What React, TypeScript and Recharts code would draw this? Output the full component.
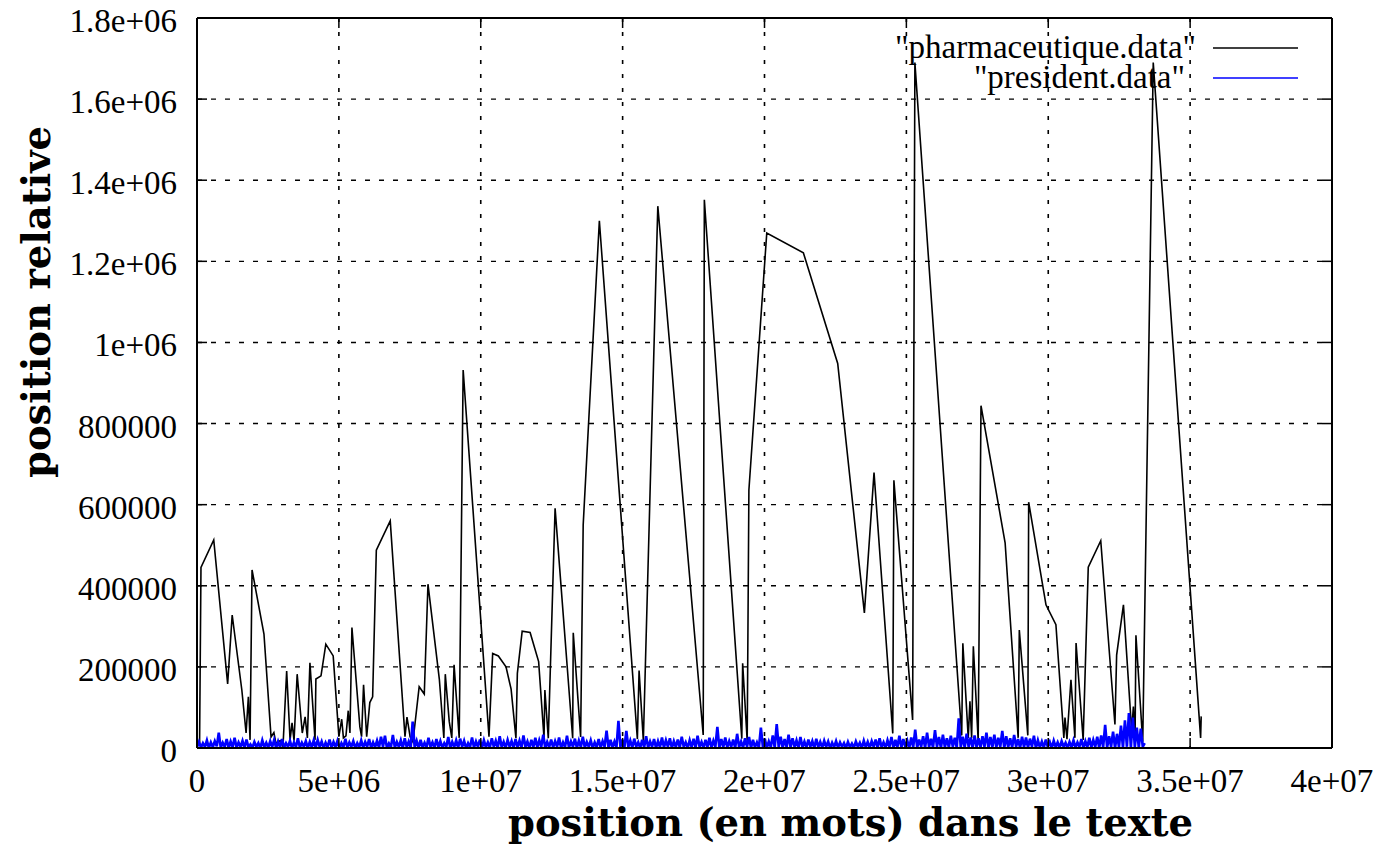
import React from 'react';
import { LineChart, Line, XAxis, YAxis, CartesianGrid, Legend, ReferenceLine, Label } from 'recharts';

const CHART_W = 1383;
const CHART_H = 866;
const MARGIN = { top: 18, right: 51, bottom: 0, left: 0 };
const Y_AXIS_W = 197;
const X_AXIS_H = 118;
const PLOT_W = CHART_W - MARGIN.left - MARGIN.right - Y_AXIS_W;
const PLOT_H = CHART_H - MARGIN.top - MARGIN.bottom - X_AXIS_H;

const SERIF = "'Liberation Serif', 'Times New Roman', serif";
const BOLD_SERIF = "'DejaVu Serif', serif";

const X_TICKS = [0, 5e6, 1e7, 1.5e7, 2e7, 2.5e7, 3e7, 3.5e7, 4e7];
const X_TICK_LABELS = ['0', '5e+06', '1e+07', '1.5e+07', '2e+07', '2.5e+07', '3e+07', '3.5e+07', '4e+07'];
const Y_TICKS = [0, 2e5, 4e5, 6e5, 8e5, 1e6, 1.2e6, 1.4e6, 1.6e6, 1.8e6];
const Y_TICK_LABELS = ['0', '200000', '400000', '600000', '800000', '1e+06', '1.2e+06', '1.4e+06', '1.6e+06', '1.8e+06'];

const X_TITLE = 'position (en mots) dans le texte';
const Y_TITLE = 'position relative';
const SERIES_NAMES = ['"pharmaceutique.data"', '"president.data"'];

// pharmaceutique.data : positions (millions of words) and relative positions (thousands)
const PHARMA_X_M = [0.09, 0.14, 0.59, 1.08, 1.24, 1.58, 1.73, 1.81, 1.87, 1.94, 2.36, 2.61, 2.71, 2.78, 2.93, 3.03, 3.16, 3.28, 3.35, 3.42, 3.53, 3.71, 3.81, 3.89, 3.98, 4.16, 4.19, 4.37, 4.54, 4.80, 5.00, 5.10, 5.16, 5.25, 5.33, 5.39, 5.46, 5.74, 5.80, 5.87, 5.98, 6.09, 6.19, 6.32, 6.81, 7.33, 7.40, 7.51, 7.61, 7.83, 8.01, 8.14, 8.54, 8.70, 8.75, 8.89, 8.98, 9.06, 9.24, 9.38, 10.29, 10.42, 10.62, 10.89, 11.07, 11.24, 11.29, 11.46, 11.74, 12.04, 12.23, 12.26, 12.38, 12.62, 13.24, 13.26, 13.52, 13.61, 14.18, 15.52, 15.58, 15.73, 16.24, 17.84, 17.88, 19.20, 19.23, 19.39, 19.45, 20.08, 21.37, 22.58, 23.52, 23.86, 24.52, 24.56, 25.22, 25.30, 26.95, 26.99, 27.18, 27.24, 27.30, 27.36, 27.53, 27.63, 28.48, 28.94, 28.98, 29.28, 29.31, 29.92, 30.27, 30.55, 30.59, 30.66, 30.80, 30.94, 30.98, 31.23, 31.41, 31.85, 32.35, 32.41, 32.65, 32.94, 33.00, 33.06, 33.09, 33.33, 33.70, 35.37, 35.39];
const PHARMA_Y_K = [5, 445, 513, 158, 328, 143, 37, 126, 20, 439, 281, 27, 38, 12, 18, 3, 190, 20, 62, 18, 182, 37, 77, 25, 210, 20, 170, 178, 256, 227, 28, 71, 25, 30, 92, 37, 297, 52, 28, 156, 28, 112, 126, 488, 560, 28, 76, 28, 15, 151, 133, 404, 170, 25, 182, 65, 25, 205, 25, 932, 28, 233, 227, 200, 145, 24, 184, 288, 285, 213, 24, 143, 24, 591, 24, 284, 27, 550, 1300, 22, 191, 18, 1336, 32, 1352, 23, 209, 18, 636, 1270, 1221, 948, 333, 679, 36, 660, 69, 1690, 31, 258, 25, 115, 25, 251, 20, 844, 506, 25, 291, 31, 606, 353, 304, 25, 75, 22, 168, 25, 259, 20, 446, 511, 58, 229, 353, 42, 102, 25, 278, 15, 1690, 25, 78];

// president.data : evenly spaced samples up to the last position (millions), values in thousands
const PRESIDENT_END_M = 33.4;
const PRESIDENT_Y_K = [
  2, 15, 1, 12, 3, 19, 0, 14, 2, 17, 4, 38, 1, 13, 3, 22, 0, 16, 2, 25,
  1, 14, 3, 18, 0, 21, 2, 9, 1, 15, 3, 12, 0, 19, 2, 13, 1, 17, 3, 20,
  0, 16, 2, 22, 1, 12, 3, 18, 0, 14, 2, 24, 1, 13, 3, 17, 0, 15, 2, 19,
  1, 20, 3, 16, 0, 13, 2, 21, 1, 15, 3, 18, 0, 12, 2, 23, 1, 14, 3, 17,
  0, 12, 2, 19, 1, 15, 3, 22, 0, 14, 2, 18, 1, 28, 3, 30, 0, 11, 2, 32,
  1, 15, 3, 19, 0, 24, 2, 16, 1, 65, 3, 18, 0, 20, 2, 13, 1, 25, 3, 14,
  0, 22, 2, 17, 1, 12, 3, 27, 0, 15, 2, 19, 1, 23, 3, 18, 0, 12, 2, 26,
  1, 16, 3, 21, 0, 19, 2, 14, 1, 24, 3, 18, 0, 29, 2, 15, 1, 20, 3, 17,
  0, 22, 2, 18, 1, 31, 3, 16, 0, 20, 2, 25, 1, 19, 3, 33, 0, 15, 2, 21,
  1, 17, 3, 26, 0, 14, 2, 30, 1, 16, 3, 23, 0, 18, 2, 28, 1, 15, 3, 19,
  0, 14, 2, 22, 1, 17, 3, 43, 0, 20, 2, 16, 1, 67, 3, 21, 0, 42, 2, 18,
  1, 23, 3, 14, 0, 20, 2, 29, 1, 16, 3, 22, 0, 17, 2, 26, 1, 19, 3, 24,
  0, 17, 2, 21, 1, 28, 3, 14, 0, 19, 2, 23, 1, 30, 3, 15, 0, 20, 2, 25,
  1, 18, 3, 52, 0, 22, 2, 26, 1, 17, 3, 21, 0, 35, 2, 16, 1, 24, 3, 27,
  0, 20, 2, 14, 1, 50, 3, 23, 0, 16, 2, 31, 1, 59, 3, 28, 0, 22, 2, 33,
  1, 24, 3, 19, 0, 27, 2, 16, 1, 21, 3, 17, 0, 23, 2, 15, 1, 18, 3, 16,
  0, 13, 2, 17, 1, 14, 3, 12, 0, 15, 2, 11, 1, 16, 3, 13, 0, 18, 2, 15,
  1, 17, 3, 21, 0, 24, 2, 14, 1, 19, 3, 27, 0, 20, 2, 30, 1, 22, 3, 18,
  0, 26, 2, 45, 1, 21, 3, 29, 0, 38, 2, 23, 1, 44, 3, 27, 0, 33, 2, 24,
  1, 30, 3, 25, 0, 73, 2, 28, 1, 35, 3, 26, 0, 31, 2, 24, 1, 29, 3, 38,
  0, 27, 2, 33, 1, 25, 3, 42, 0, 29, 2, 24, 1, 32, 3, 22, 0, 28, 2, 26,
  1, 23, 3, 30, 0, 19, 2, 16, 1, 21, 3, 15, 0, 18, 2, 14, 1, 17, 3, 13,
  0, 15, 2, 19, 1, 14, 3, 22, 0, 17, 2, 25, 1, 20, 3, 28, 0, 31, 2, 57,
  1, 29, 3, 40, 0, 35, 2, 55, 1, 68, 3, 86, 0, 75, 2, 50, 1, 48, 3, 12,
];

const pharmaData = PHARMA_X_M.map((x, i) => ({ x: x * 1e6, y: PHARMA_Y_K[i] * 1000 }));
const presidentStep = (PRESIDENT_END_M * 1e6) / (PRESIDENT_Y_K.length - 1);
const presidentData = PRESIDENT_Y_K.map((v, i) => ({ x: i * presidentStep, y: v * 1000 }));

const TICK_LEN = 10;

const XTick = (props: any) => {
  const { x, y, payload } = props;
  const idx = X_TICKS.indexOf(payload.value);
  return (
    <g>
      <line x1={x} y1={y} x2={x} y2={y - TICK_LEN} stroke="#000" strokeWidth={1.5} />
      <line x1={x} y1={y - PLOT_H} x2={x} y2={y - PLOT_H + TICK_LEN} stroke="#000" strokeWidth={1.5} />
      <text x={x} y={y + 33} textAnchor="middle" dominantBaseline="central" fontFamily={SERIF} fontSize={33} fill="#000">
        {X_TICK_LABELS[idx]}
      </text>
    </g>
  );
};

const YTick = (props: any) => {
  const { x, y, payload } = props;
  const idx = Y_TICKS.indexOf(payload.value);
  return (
    <g>
      <line x1={x} y1={y} x2={x + TICK_LEN} y2={y} stroke="#000" strokeWidth={1.5} />
      <line x1={x + PLOT_W - TICK_LEN} y1={y} x2={x + PLOT_W} y2={y} stroke="#000" strokeWidth={1.5} />
      <text x={x - 20} y={y + 3} textAnchor="end" dominantBaseline="central" fontFamily={SERIF} fontSize={33} fill="#000">
        {Y_TICK_LABELS[idx]}
      </text>
    </g>
  );
};

const renderLegend = (props: any) => {
  const payload = props.payload || [];
  return (
    <svg width={CHART_W} height={100} style={{ position: 'absolute', left: 0, top: 0, overflow: 'visible' }}>
      {payload.map((entry: any, i: number) => (
        <g key={i}>
          <text
            x={i === 0 ? 1196 : 1185}
            y={58 + i * 30}
            textAnchor="end"
            fontFamily={SERIF}
            fontSize={33}
            fill="#000"
          >
            {entry.value}
          </text>
          <line x1={1213} y1={48 + i * 30} x2={1298} y2={48 + i * 30} stroke={entry.color} strokeWidth={1.6} />
        </g>
      ))}
    </svg>
  );
};

const XTitle = (props: any) => {
  const vb = props.viewBox || { x: 197, y: 748, width: PLOT_W, height: X_AXIS_H };
  return (
    <text
      x={vb.x + vb.width / 2 + 86}
      y={vb.y + 74}
      textAnchor="middle"
      dominantBaseline="central"
      fontFamily={BOLD_SERIF}
      fontWeight="bold"
      fontSize={38.5}
      fill="#000"
    >
      {X_TITLE}
    </text>
  );
};

const YTitle = (props: any) => {
  const vb = props.viewBox || { x: 0, y: 18, width: Y_AXIS_W, height: PLOT_H };
  const cx = 36;
  const cy = vb.y + vb.height / 2 - 81;
  return (
    <text
      x={cx}
      y={cy}
      transform={`rotate(-90, ${cx}, ${cy})`}
      textAnchor="middle"
      dominantBaseline="central"
      fontFamily={BOLD_SERIF}
      fontWeight="bold"
      fontSize={38.5}
      fill="#000"
    >
      {Y_TITLE}
    </text>
  );
};

export default function App() {
  return (
    <div style={{ position: 'absolute', left: 0, top: 0, width: CHART_W, height: CHART_H, background: '#fff' }}>
      <LineChart width={CHART_W} height={CHART_H} margin={MARGIN}>
        <CartesianGrid horizontal={true} vertical={false} stroke="#000" strokeWidth={1.4} strokeDasharray="5 9" />
        <CartesianGrid horizontal={false} vertical={true} stroke="#000" strokeWidth={1.6} strokeDasharray="4 10" />
        <XAxis
          type="number"
          dataKey="x"
          domain={[0, 4e7]}
          ticks={X_TICKS}
          interval={0}
          height={X_AXIS_H}
          tickSize={0}
          tickMargin={0}
          tickLine={false}
          axisLine={{ stroke: '#000', strokeWidth: 2 }}
          tick={<XTick />}
          allowDataOverflow={true}
        >
          <Label content={<XTitle />} />
        </XAxis>
        <YAxis
          type="number"
          domain={[0, 1.8e6]}
          ticks={Y_TICKS}
          interval={0}
          width={Y_AXIS_W}
          tickSize={0}
          tickMargin={0}
          tickLine={false}
          axisLine={{ stroke: '#000', strokeWidth: 2 }}
          tick={<YTick />}
          allowDataOverflow={true}
        >
          <Label content={<YTitle />} />
        </YAxis>
        <ReferenceLine y={1.8e6} stroke="#000" strokeWidth={2} />
        <ReferenceLine x={4e7} stroke="#000" strokeWidth={2} />
        <Line
          data={pharmaData}
          dataKey="y"
          name={SERIES_NAMES[0]}
          type="linear"
          stroke="#000000"
          strokeWidth={1.6}
          dot={false}
          activeDot={false}
          isAnimationActive={false}
        />
        <Line
          data={presidentData}
          dataKey="y"
          name={SERIES_NAMES[1]}
          type="linear"
          stroke="#0000ff"
          strokeWidth={2.6}
          dot={false}
          activeDot={false}
          isAnimationActive={false}
        />
        <Legend
          layout="horizontal"
          verticalAlign="middle"
          align="center"
          content={renderLegend}
          wrapperStyle={{ position: 'absolute', left: 0, top: 0, width: CHART_W, height: 100, pointerEvents: 'none' }}
        />
      </LineChart>
    </div>
  );
}
